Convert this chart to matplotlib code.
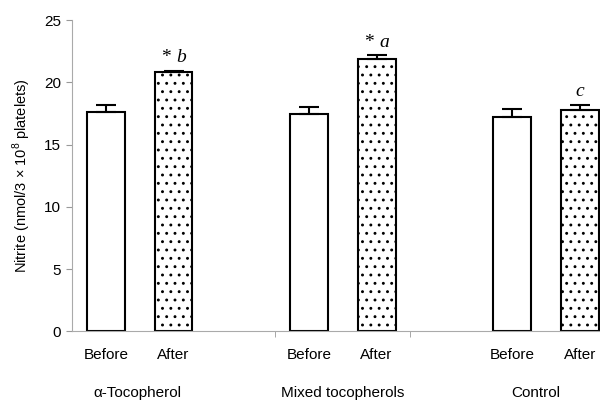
import numpy as np
import matplotlib.pyplot as plt

plt.rcParams['font.family'] = ['Liberation Sans', 'DejaVu Sans']
plt.rcParams['mathtext.fontset'] = 'custom'
plt.rcParams['mathtext.rm'] = 'Liberation Sans'
plt.rcParams['hatch.linewidth'] = 0.9

# Data
groups = ['\u03b1-Tocopherol', 'Mixed tocopherols', 'Control']
phases = ['Before', 'After']
before_vals = [17.6, 17.45, 17.2]
after_vals = [20.8, 21.85, 17.75]
before_err = [0.55, 0.55, 0.7]
after_err = [0.15, 0.35, 0.45]
after_stars = ['*', '*', '']
after_letters = ['b', 'a', 'c']

x_before = np.array([0, 3, 6])
x_after = x_before + 1
group_x = [0.47, 3.5, 6.35]

fig = plt.figure(figsize=(6, 4.04), dpi=100)
ax = fig.add_axes([0.12, 0.18, 0.88, 0.77])

width = 0.56
ax.bar(x_before, before_vals, width, color='white', edgecolor='black', linewidth=1.5, zorder=2)
ax.bar(x_after, after_vals, width, color='white', edgecolor='black', linewidth=1.5,
       hatch='..', zorder=2)
ax.errorbar(x_before, before_vals, yerr=[np.zeros(3), before_err], fmt='none',
            ecolor='black', elinewidth=1.5, capsize=7, capthick=1.5, zorder=3)
ax.errorbar(x_after, after_vals, yerr=[np.zeros(3), after_err], fmt='none',
            ecolor='black', elinewidth=1.5, capsize=7, capthick=1.5, zorder=3)

for xa, v, e, s, l in zip(x_after, after_vals, after_err, after_stars, after_letters):
    y = v + e + 0.35
    if s:
        ax.text(xa - 0.04, y, s, ha='right', va='bottom', fontsize=14,
                family='Liberation Serif')
        ax.text(xa + 0.04, y, l, ha='left', va='bottom', fontsize=14,
                family='Liberation Serif', style='italic')
    else:
        ax.text(xa, y, l, ha='center', va='bottom', fontsize=14,
                family='Liberation Serif', style='italic')

ax.set_xlim(-0.5, 7.3)
ax.set_ylim(0, 25)
ax.set_yticks([0, 5, 10, 15, 20, 25])
ax.set_ylabel('Nitrite (nmol/3 \u00d7 10$^8$ platelets)', fontsize=10.5, labelpad=8)

xs = np.sort(np.concatenate([x_before, x_after]))
ax.set_xticks(xs)
ax.set_xticklabels(phases * 3, fontsize=11)
ax.tick_params(axis='x', length=0, pad=12)
ax.set_xticks([2.5, 4.5], minor=True)
ax.tick_params(axis='x', which='minor', length=4, color='#999999')
ax.tick_params(axis='y', length=4, color='#999999', labelsize=11, pad=4)

for sp in ['top', 'right']:
    ax.spines[sp].set_visible(False)
for sp in ['left', 'bottom']:
    ax.spines[sp].set_color('#aaaaaa')
    ax.spines[sp].set_linewidth(0.8)

for gx, g in zip(group_x, groups):
    ax.text(gx, -0.2, g, transform=ax.get_xaxis_transform(), ha='center',
            va='center', fontsize=11)

fig.savefig('out.png', dpi=100)
